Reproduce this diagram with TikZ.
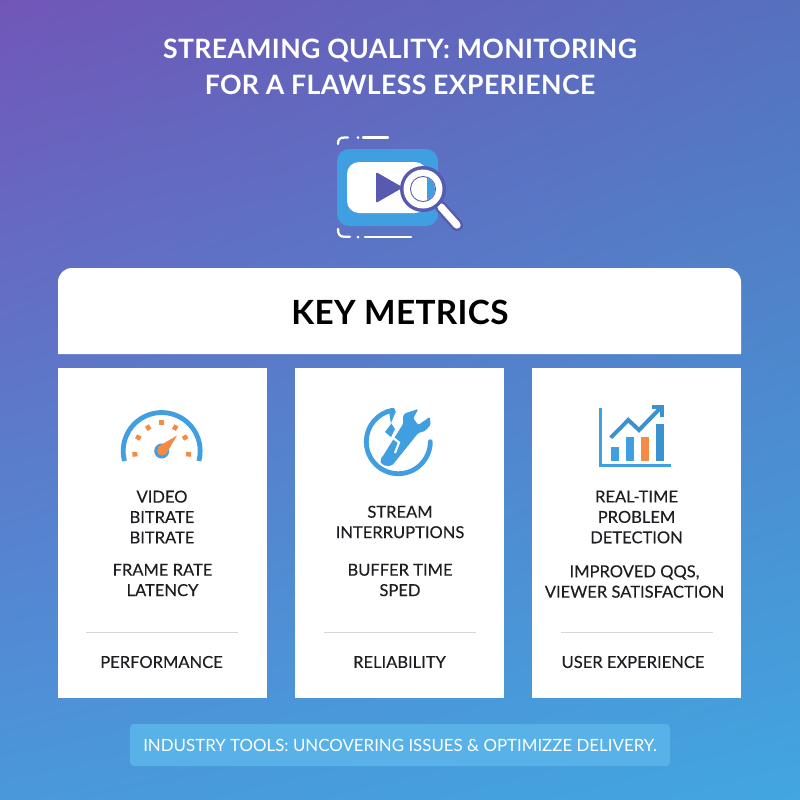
\documentclass[tikz,border=0pt]{standalone}
\usepackage{fontspec}
\setmainfont{Lato}
\usetikzlibrary{shadings,arrows.meta}

\definecolor{iconblue}{RGB}{63,159,224}
\definecolor{iconorange}{RGB}{245,138,69}
\definecolor{iconpurple}{RGB}{88,90,176}
\definecolor{inktext}{RGB}{30,30,34}
\definecolor{rulegrey}{RGB}{214,214,214}

\tikzset{
  titletext/.style={text=white,font=\fontsize{20}{27}\selectfont\bfseries\addfontfeatures{LetterSpace=1.3},align=center,inner sep=0pt},
  cardbox/.style={fill=white,minimum width=156.75pt,minimum height=247.5pt,inner sep=0pt},
  cardtext/.style={text=inktext,font=\fontsize{12.4}{15.3}\selectfont\addfontfeatures{FakeBold=0.25},align=center,inner sep=0pt},
  cardrule/.style={draw=rulegrey,line width=0.6pt},
  iconline/.style={draw=iconblue,line width=3.6pt},
  framebit/.style={draw=white,line width=1.7pt,line cap=round},
}

\begin{document}
\begin{tikzpicture}[x=0.75pt,y=0.75pt,yscale=-1,xscale=1]
\useasboundingbox (0,0) rectangle (800,800);

%Background
\shade [upper left={rgb,255:red,113;green,86;blue,184},upper right={rgb,255:red,86;green,112;blue,190},
  lower left={rgb,255:red,74;green,152;blue,218},lower right={rgb,255:red,66;green,166;blue,224}] (0,0) rectangle (800,800);

% Title
\node (title) [titletext] at (400,67) {STREAMING QUALITY: MONITORING\\FOR A FLAWLESS EXPERIENCE};

%Video icon: frame bits
\draw [framebit] (338,144) .. controls (338,139) and (340,137.5) .. (345,137.5) -- (348,137.5);
\draw [framebit] (363,137.5) -- (388,137.5);
\fill [white] (358,137.5) circle (1.5);
\draw [framebit] (338,229) .. controls (338,235) and (340,236.8) .. (345,236.8) -- (350,236.8);
\draw [framebit] (365,237) -- (411,237);
\fill [white] (358,237) circle (1.5);
%Video icon: screen
\fill [iconblue,rounded corners=9pt] (337,149) rectangle (438,226);
\fill [white,rounded corners=9pt] (347,162) rectangle (427,213);
\fill [iconpurple,rounded corners=1pt] (376,172) -- (376,203) -- (403,187.5) -- cycle;
%Video icon: magnifier
\draw [iconpurple,line width=9pt,line cap=round] (441,207) -- (457,225);
\draw [white,line width=5.5pt,line cap=round] (441,207) -- (457,225);
\fill [iconpurple] (423,189) circle (23);
\fill [white] (423,189) circle (19.5);
\fill [iconpurple] (423,189) circle (13);
\fill [white] (423,189) circle (12);
\begin{scope}
  \clip (423,189) circle (12);
  \fill [iconblue] (427,170) rectangle (440,208);
\end{scope}

%Key metrics header
\fill [white] (58,354) -- (58,282) arc[start angle=180,end angle=270,radius=14] -- (727,268) arc[start angle=270,end angle=360,radius=14] -- (741,354) -- cycle;
\node (header) [text=black,font=\fontsize{25}{30}\selectfont\bfseries\addfontfeatures{LetterSpace=1},inner sep=0pt] at (400,312) {KEY METRICS};

%Cards
\node (cardA) [cardbox] at (162.5,533) {};
\node (cardB) [cardbox] at (399.5,533) {};
\node (cardC) [cardbox] at (636.5,533) {};

%Gauge icon
\draw [iconline,line cap=butt] (124.5,461) arc[start angle=-195,end angle=15,radius=38.5];
\foreach \tickangle/\tickout in {187/28,150/28,120/28,90/30,60/28,30/28,-7/28}
  \draw [iconorange,line width=3.4pt] (161.7,451) ++(-\tickangle:\tickout-3.5) -- ++(-\tickangle:5);
\fill [iconblue] (161.7,451) circle (7.5);
\fill [iconorange] (161.7,451) circle (4.5);
\fill [iconorange] (157.5,447) -- (177,435.5) -- (165.5,455) -- cycle;

%Wrench icon
\draw [iconline,line cap=round] (430.3,441.7) arc[start angle=0,end angle=260,radius=32];
\fill [iconblue,rounded corners=1pt] (381.7,458) -- (403,424) -- (403,416) -- (405,413.3) -- (418.3,409) -- (413.3,418.3) -- (418.3,425) -- (430,416.7) -- (430.5,425) -- (425,431) -- (418.3,433) -- (393.3,464) .. controls (389,468) and (378,465) .. (381.7,458) -- cycle;
\draw [white,line width=1.6pt] (395,418) -- (389.5,423.5) -- (396,428.5) -- (392,437) -- (399,442.5) -- (395,453);
\fill [iconblue] (389,411) -- (396,411) -- (391,423) -- (395,429) -- (391,437) -- (385,432) -- (391,424) -- cycle;

%Chart icon
\draw [iconblue,line width=2.6pt] (600.7,408) -- (600.7,465.7) -- (671,465.7);
\fill [iconblue] (610.7,446.7) rectangle (619,461);
\fill [iconblue] (625.7,436.7) rectangle (634,461);
\fill [iconorange] (640.7,436.7) rectangle (649,461);
\fill [iconblue!92!black] (655.7,424.3) rectangle (664,461);
\draw [iconblue!92!black,line width=3pt] (610.7,437.7) -- (628.3,420) -- (639,430) -- (660,408.5);
\draw [iconblue!92!black,line width=3pt] (652,407) -- (661.5,407) -- (661.5,417);

%Card texts
\node (videoA) [cardtext] at (162,517) {VIDEO\\BITRATE\\BITRATE};
\node (frameA) [cardtext] at (162.5,580) {FRAME RATE\\LATENCY};
\node (footA) [cardtext] at (161.5,662) {PERFORMANCE};
\node (streamB) [cardtext] at (400,522) {STREAM\\INTERRUPTIONS};
\node (bufferB) [cardtext] at (400,580) {BUFFER TIME\\SPED};
\node (footB) [cardtext] at (399.5,662) {RELIABILITY};
\node (realC) [cardtext] at (636.5,517) {REAL-TIME\\PROBLEM\\DETECTION};
\node (qosC) [cardtext] at (634.5,581.5) {IMPROVED QQS,\\VIEWER SATISFACTION};
\node (footC) [cardtext] at (633,662) {USER EXPERIENCE};

%Dividers
\draw [cardrule] (86,632) -- (238,632);
\draw [cardrule] (324,632) -- (476,632);
\draw [cardrule] (561,632) -- (713,632);

%Footer band
\node (toolband) [fill={rgb,255:red,88;green,178;blue,232},rounded corners=3pt,minimum width=405pt,minimum height=31.5pt,inner sep=0pt] at (400,745) {};
\node (toolnote) [text=white,font=\fontsize{12.65}{16}\selectfont,inner sep=0pt] at (400,745) {INDUSTRY TOOLS: UNCOVERING ISSUES \& OPTIMIZZE DELIVERY.};

\end{tikzpicture}
\end{document}
